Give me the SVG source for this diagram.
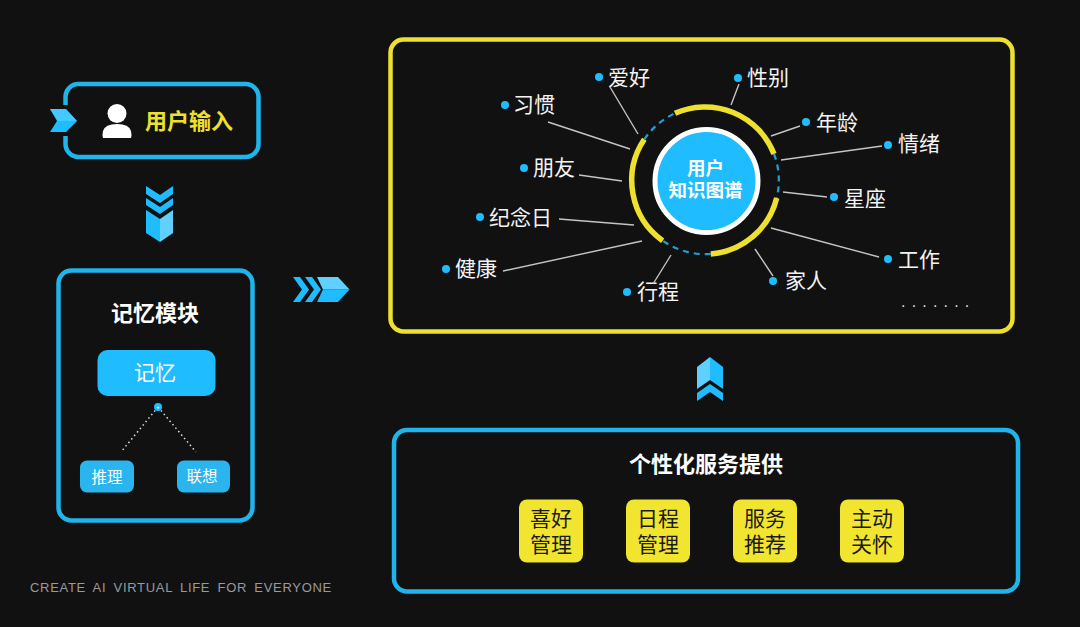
<svg xmlns="http://www.w3.org/2000/svg" width="1080" height="627" viewBox="0 0 1080 627">
<defs>
<style>
text{font-family:"Liberation Sans","Noto Sans CJK SC",sans-serif;}
.blue{fill:#111112;stroke:#1fb4ea;stroke-width:4.5;}
.yel{fill:#111112;stroke:#eee02e;stroke-width:4.5;}
.lbl{font-size:21px;fill:#f4f4f4;}
.dot{fill:#1fbcff;}
.ray{stroke:#c4c4c4;stroke-width:1.4;fill:none;}
.w{fill:#fff;text-anchor:middle;}
.card{fill:#f2e52f;}
.ct{font-size:21px;fill:#1a1a1a;text-anchor:middle;}
.arcY{fill:none;stroke:#eee02e;stroke-width:5.5;}
.arcD{fill:none;stroke:#1f9fd6;stroke-width:2.2;stroke-dasharray:6 5;}
.dots{fill:none;stroke:#ddd;stroke-width:1.5;stroke-dasharray:1.5 3;}
.c1{fill:#1fbcff;}
.c2{fill:#5fd0ff;}
</style>
</defs>
<rect width="1080" height="627" fill="#111112"/>
<g id="user-input">
<rect class="blue" x="65.500" y="84" width="193" height="73" rx="13"/>
<path fill="#111112" d="M60 105H72V136H60Z"/>
<path class="c1" d="M50 109H66L77 121L66 132H50L57 121Z"/>
<path class="c2" d="M66 109L77 121L66 121L58 121L50 109Z" opacity="0.6"/>
<circle cx="117" cy="113.500" r="9.500" fill="#fff"/>
<path d="M103 138Q102 135 103 131Q105 124 117 124Q129 124 131 131Q132 135 131 138Z" fill="#fff"/>
<text x="189" y="129" font-size="22" font-weight="bold" fill="#eee02e" text-anchor="middle">用户输入</text>
</g>
<g id="arrow-down">
<path class="c1" d="M146 186L160 195L173 186V194L160 203L146 194Z"/>
<path class="c1" d="M146 198L160 207L173 198V205L160 214L146 205Z"/>
<path class="c1" d="M146 210L160 219V242L146 233Z"/>
<path class="c2" d="M173 210L160 219V242L173 233Z"/>
</g>
<g id="memory-module">
<rect class="blue" x="58.500" y="270.500" width="194" height="250" rx="13"/>
<text class="w" x="155" y="321" font-size="22" font-weight="bold">记忆模块</text>
<rect x="97.500" y="350" width="118" height="46" rx="10" fill="#1fbcff"/>
<text class="w" x="155" y="380" font-size="21">记忆</text>
<circle class="dot" cx="158" cy="407" r="4"/>
</g>
<g id="reasoning">
<rect x="80" y="460.500" width="54" height="32" rx="7" fill="#2ab5ee"/>
<text class="w" x="107" y="483" font-size="15.500">推理</text>
</g>
<g id="association">
<rect x="177" y="460.500" width="53" height="32" rx="7" fill="#2ab5ee"/>
<text class="w" x="202" y="482" font-size="15.500">联想</text>
</g>
<g id="arrow-right">
<path class="c1" d="M293 277H300L309 289.500L300 302H293L302 289.500Z"/>
<path class="c1" d="M305 277H312L321 289.500L312 302H305L314 289.500Z"/>
<path class="c1" d="M323 289.500H349.500L338 302H317Z"/>
<path class="c2" d="M317 277H338L349.500 289.500H323Z"/>
</g>
<g id="knowledge-graph">
<rect class="yel" x="390.500" y="39.500" width="622" height="292" rx="13"/>
<path class="arcY" d="M675 113.300A74 74 0 0 1 774 154"/>
<path class="arcD" d="M774 154A74 74 0 0 1 776.700 198"/>
<path class="arcY" d="M776.700 198A74 74 0 0 1 710.700 254"/>
<path class="arcD" d="M710.700 254A74 74 0 0 1 662.700 240.700"/>
<path class="arcY" d="M662.700 240.700A74 74 0 0 1 644.300 139.300"/>
<path class="arcD" d="M644.300 139.300A74 74 0 0 1 675 113.300"/>
<circle cx="706.500" cy="181" r="51.500" fill="#1fbcff" stroke="#fff" stroke-width="5"/>
<text class="w" x="705.500" y="175" font-size="18.500" font-weight="bold">用户</text>
<text class="w" x="705.500" y="197" font-size="18.500" font-weight="bold">知识图谱</text>
<circle class="dot" cx="505" cy="105" r="4"/><text class="lbl" x="513" y="112">习惯</text>
<circle class="dot" cx="599" cy="77" r="4"/><text class="lbl" x="608" y="85">爱好</text>
<circle class="dot" cx="738" cy="78" r="4"/><text class="lbl" x="747" y="85">性别</text>
<circle class="dot" cx="806" cy="122" r="4"/><text class="lbl" x="816" y="130">年龄</text>
<circle class="dot" cx="888" cy="145" r="4"/><text class="lbl" x="898" y="151">情绪</text>
<circle class="dot" cx="834" cy="197" r="4"/><text class="lbl" x="844" y="206">星座</text>
<circle class="dot" cx="888" cy="259" r="4"/><text class="lbl" x="898" y="267">工作</text>
<circle class="dot" cx="773" cy="281" r="4"/><text class="lbl" x="785" y="288">家人</text>
<circle class="dot" cx="627" cy="292" r="4"/><text class="lbl" x="637" y="299">行程</text>
<circle class="dot" cx="446" cy="269" r="4"/><text class="lbl" x="455" y="276">健康</text>
<circle class="dot" cx="480" cy="217" r="4"/><text class="lbl" x="489" y="225">纪念日</text>
<circle class="dot" cx="524" cy="168" r="4"/><text class="lbl" x="533" y="175">朋友</text>
<text x="901" y="307" font-size="16" fill="#ddd" letter-spacing="6.200">.......</text>
</g>
<g id="arrow-up">
<path class="c2" d="M710 357L697 367V389L710 380Z"/>
<path class="c1" d="M710 357L723 367V389L710 380Z"/>
<path class="c1" d="M697 393L710 384L723 393V401L710 392L697 401Z"/>
</g>
<g id="services">
<rect class="blue" x="394" y="430" width="624" height="161.500" rx="13"/>
<text class="w" x="706" y="472" font-size="22" font-weight="bold">个性化服务提供</text>
<rect class="card" x="519" y="499.500" width="64" height="63" rx="8"/>
<text class="ct" x="551" y="526">喜好</text><text class="ct" x="551" y="552">管理</text>
<rect class="card" x="626" y="499.500" width="64" height="63" rx="8"/>
<text class="ct" x="658" y="526">日程</text><text class="ct" x="658" y="552">管理</text>
<rect class="card" x="733" y="499.500" width="64" height="63" rx="8"/>
<text class="ct" x="765" y="526">服务</text><text class="ct" x="765" y="552">推荐</text>
<rect class="card" x="840" y="499.500" width="64" height="63" rx="8"/>
<text class="ct" x="872" y="526">主动</text><text class="ct" x="872" y="552">关怀</text>
</g>
<g id="connectors">
<path class="dots" d="M158 407L121 452M158 407L196 452"/>
<path class="ray" d="M548 122L630 149M610 87L638 134M731 105L739 84M771 136L800 126M781 160L882 146M783 192L827 197M771 228L879 257M755 249L773 276M671 255L653 284M642 241L503 271M634 225L559 219M622 181L579 175"/>
</g>
<text x="30" y="592" font-size="13" fill="#9a9a9a" letter-spacing="0.700" word-spacing="3">CREATE AI VIRTUAL LIFE FOR EVERYONE</text>
</svg>
